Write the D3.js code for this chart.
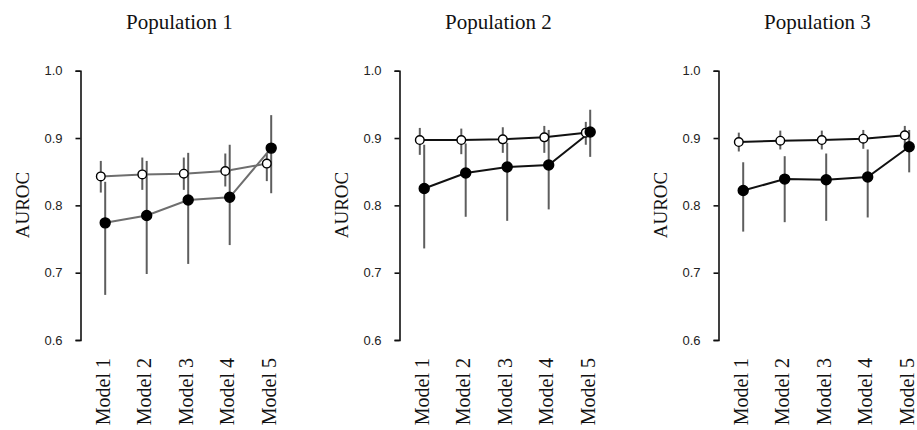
<!DOCTYPE html>
<html>
<head>
<meta charset="utf-8">
<script src="https://cdn.jsdelivr.net/npm/d3@7"></script>
<style>
  body { margin: 0; background: #fff; }
  svg { display: block; }
</style>
</head>
<body>
<svg id="chart" width="917" height="430"></svg>
<script>
// values
const models = ["Model 1", "Model 2", "Model 3", "Model 4", "Model 5"];
const titles = ["Population 1", "Population 2", "Population 3"];
const yTicks = [0.6, 0.7, 0.8, 0.9, 1.0];

// population 1
const open1 = [0.843, 0.846, 0.847, 0.851, 0.862];
const open1Lo = [0.819, 0.823, 0.823, 0.828, 0.836];
const open1Hi = [0.866, 0.871, 0.871, 0.877, 0.877];
const filled1 = [0.774, 0.785, 0.808, 0.812, 0.885];
const filled1Lo = [0.667, 0.698, 0.713, 0.741, 0.818];
const filled1Hi = [0.835, 0.866, 0.878, 0.890, 0.934];

// population 2
const open2 = [0.897, 0.897, 0.898, 0.901, 0.908];
const open2Lo = [0.875, 0.876, 0.878, 0.878, 0.890];
const open2Hi = [0.915, 0.914, 0.916, 0.918, 0.924];
const filled2 = [0.825, 0.848, 0.857, 0.860, 0.909];
const filled2Lo = [0.736, 0.783, 0.777, 0.794, 0.872];
const filled2Hi = [0.890, 0.892, 0.893, 0.912, 0.942];

// population 3
const open3 = [0.894, 0.896, 0.897, 0.899, 0.904];
const open3Lo = [0.880, 0.883, 0.883, 0.884, 0.888];
const open3Hi = [0.908, 0.911, 0.911, 0.912, 0.918];
const filled3 = [0.822, 0.839, 0.838, 0.842, 0.887];
const filled3Lo = [0.761, 0.775, 0.777, 0.782, 0.849];
const filled3Hi = [0.864, 0.873, 0.877, 0.883, 0.912];

const panels = [
  { title: titles[0], lineColor: "#6e6e6e",
    open: open1, openLo: open1Lo, openHi: open1Hi,
    filled: filled1, filledLo: filled1Lo, filledHi: filled1Hi },
  { title: titles[1], lineColor: "#111",
    open: open2, openLo: open2Lo, openHi: open2Hi,
    filled: filled2, filledLo: filled2Lo, filledHi: filled2Hi },
  { title: titles[2], lineColor: "#111",
    open: open3, openLo: open3Lo, openHi: open3Hi,
    filled: filled3, filledLo: filled3Lo, filledHi: filled3Hi }
];

const svg = d3.select("#chart");
const serif = "'Liberation Serif', 'Times New Roman', serif";
const sans = "'Liberation Sans', Arial, sans-serif";

const y = d3.scaleLinear().domain([0.6, 1.0]).range([340, 70.7]);

panels.forEach((p, i) => {
  const left = 80.5 + i * 319;
  const g = svg.append("g");

  const x = d3.scalePoint().domain(models).range([left + 22.5, left + 188.5]);

  // y axis
  const yAxis = d3.axisLeft(y)
    .tickValues(yTicks)
    .tickFormat(d3.format(".1f"))
    .tickSize(5)
    .tickPadding(13);

  const ax = g.append("g")
    .attr("transform", `translate(${left},0)`)
    .call(yAxis);
  ax.select(".domain").attr("stroke", "#111").attr("stroke-width", 1.6);
  ax.selectAll(".tick line").attr("stroke", "#111").attr("stroke-width", 1.6);
  ax.selectAll(".tick text")
    .attr("fill", "#222")
    .style("font-family", sans)
    .style("font-size", "13px");

  // x labels, rotated
  g.selectAll(".xlab")
    .data(models)
    .join("text")
    .attr("class", "xlab")
    .attr("transform", d => `translate(${x(d)},358) rotate(-90)`)
    .attr("text-anchor", "end")
    .attr("dy", "0.33em")
    .style("font-family", serif)
    .style("font-size", "20px")
    .attr("fill", "#111")
    .text(d => d);

  // title
  g.append("text")
    .attr("x", left + 99)
    .attr("y", 29)
    .attr("text-anchor", "middle")
    .style("font-family", serif)
    .style("font-size", "21px")
    .attr("fill", "#111")
    .text(p.title);

  // y title
  g.append("text")
    .attr("transform", `translate(${left - 58},205) rotate(-90)`)
    .attr("text-anchor", "middle")
    .attr("dy", "0.35em")
    .style("font-family", serif)
    .style("font-size", "19px")
    .attr("fill", "#111")
    .text("AUROC");

  const series = [
    { vals: p.open, lo: p.openLo, hi: p.openHi, dx: -2.2, fill: "#fff" },
    { vals: p.filled, lo: p.filledLo, hi: p.filledHi, dx: 2.2, fill: "#000" }
  ];

  // error bars
  series.forEach(s => {
    g.selectAll(null)
      .data(models)
      .join("line")
      .attr("x1", (d, j) => x(d) + s.dx)
      .attr("x2", (d, j) => x(d) + s.dx)
      .attr("y1", (d, j) => y(s.lo[j]))
      .attr("y2", (d, j) => y(s.hi[j]))
      .attr("stroke", "#5e5e5e")
      .attr("stroke-width", 2);
  });

  // connecting lines
  const line = d3.line()
    .x(d => d[0])
    .y(d => d[1]);

  series.forEach(s => {
    g.append("path")
      .datum(models.map((m, j) => [x(m) + s.dx, y(s.vals[j])]))
      .attr("d", line)
      .attr("fill", "none")
      .attr("stroke", p.lineColor)
      .attr("stroke-width", 2);
  });

  // markers
  series.forEach(s => {
    g.selectAll(null)
      .data(models)
      .join("circle")
      .attr("cx", (d, j) => x(d) + s.dx)
      .attr("cy", (d, j) => y(s.vals[j]))
      .attr("r", s.fill === "#fff" ? 4.3 : 5)
      .attr("fill", s.fill)
      .attr("stroke", "#000")
      .attr("stroke-width", 1.4);
  });
});
</script>
</body>
</html>
